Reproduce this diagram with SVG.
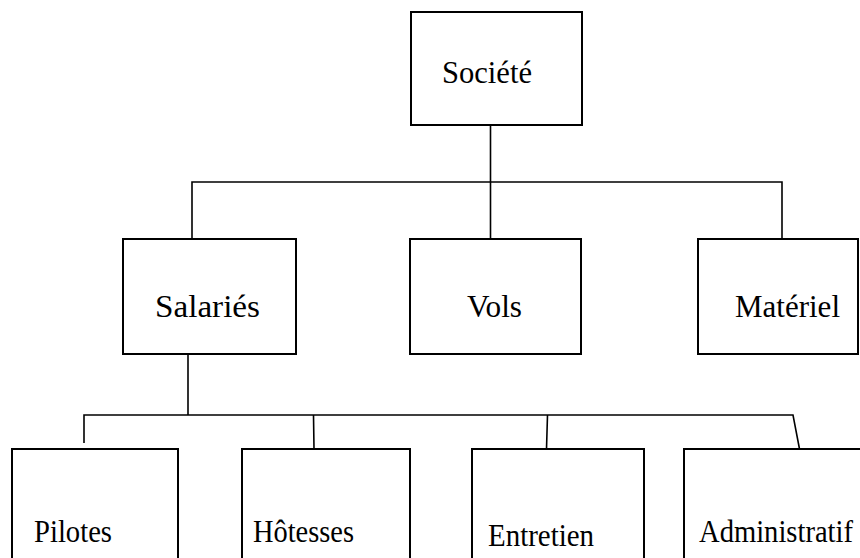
<svg xmlns="http://www.w3.org/2000/svg" width="860" height="558" viewBox="0 0 860 558">
<style>
rect{fill:#fff;stroke:#000;stroke-width:2}
.c{fill:none;stroke:#000;stroke-width:1.6}
text{font-family:"Liberation Serif","Times New Roman",serif;font-size:31px;fill:#000}
</style>
<rect x="0" y="0" width="860" height="558" style="stroke:none"/>
<g id="connectors">
<path class="c" d="M490.5 125V239M192 239V182H782V239"/>
<path class="c" d="M188 354V415M84 443V415H793L799.5 449M313.5 415L314 449M547.5 415L546.5 449"/>
</g>
<g id="societe"><rect x="411" y="12" width="171" height="113"/><text x="442" y="83" textLength="90" lengthAdjust="spacingAndGlyphs">Société</text></g>
<g id="salaries"><rect x="123" y="239" width="173" height="115"/><text x="155" y="317" textLength="105" lengthAdjust="spacingAndGlyphs">Salariés</text></g>
<g id="vols"><rect x="410" y="239" width="171" height="115"/><text x="467" y="317" textLength="55" lengthAdjust="spacingAndGlyphs">Vols</text></g>
<g id="materiel"><rect x="698" y="239" width="160" height="115"/><text x="735" y="317" textLength="105" lengthAdjust="spacingAndGlyphs">Matériel</text></g>
<g id="pilotes"><rect x="12" y="449" width="166" height="120"/><text x="34" y="542" textLength="78" lengthAdjust="spacingAndGlyphs">Pilotes</text></g>
<g id="hotesses"><rect x="242" y="449" width="168" height="120"/><text x="253" y="542" textLength="101" lengthAdjust="spacingAndGlyphs">Hôtesses</text></g>
<g id="entretien"><rect x="472" y="449" width="172" height="120"/><text x="488" y="546" textLength="106" lengthAdjust="spacingAndGlyphs">Entretien</text></g>
<g id="administratif"><rect x="684" y="449" width="190" height="120"/><text x="699" y="542" textLength="154" lengthAdjust="spacingAndGlyphs">Administratif</text></g>
</svg>
